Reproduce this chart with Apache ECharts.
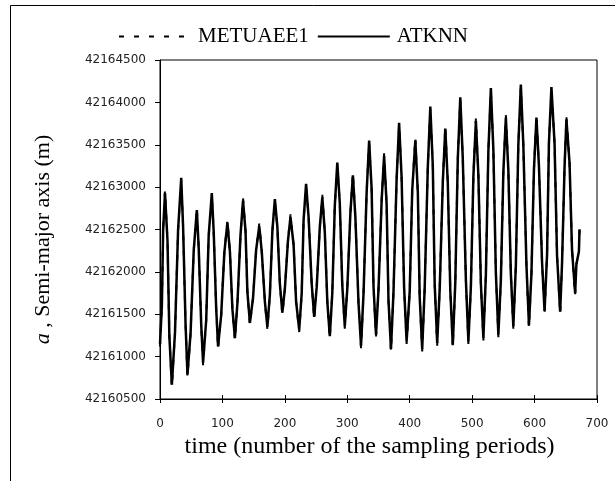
<!DOCTYPE html>
<html>
<head>
<meta charset="utf-8">
<script src="https://cdn.jsdelivr.net/npm/echarts@6/dist/echarts.min.js"></script>
<style>html,body{margin:0;padding:0;background:#fff}#c{width:615px;height:481px}</style>
</head>
<body>
<div id="c"></div>
<script>
var seriesNames = ['METUAEE1', 'ATKNN'];
var sampleIdx = [0,3,5,8,12,15,19,24,29,34,37,41,44,49,54,59,62,66,69,74,78,83,86,90,93,98,103,108,112,116,120,124,129,133,137,140,144,149,154,159,163,168,172,176,180,184,188,192,196,200,205,209,214,218,223,227,230,234,238,243,247,251,256,260,264,268,272,276,280,284,288,292,296,300,305,309,313,318,322,326,331,335,339,342,346,350,355,359,363,366,370,374,379,383,387,391,395,400,404,409,413,416,420,424,429,433,437,440,444,448,453,457,461,465,469,473,477,481,485,490,494,498,502,506,510,514,518,522,526,530,534,538,542,546,550,554,558,562,566,570,574,578,582,587,591,595,599,603,607,612,616,620,623,627,632,636,641,644,648,651,656,660,665,667,671,672];
var atknn = [
42161150,42161600,42162490,42162930,42162370,42161240,42160670,42161280,42162500,42163110,42162530,42161370,42160790,
42161280,42162250,42162730,42162280,42161380,42160930,42161430,42162430,42162930,42162480,42161570,42161120,
42161490,42162220,42162580,42162240,42161560,42161220,42161630,42162440,42162840,42162480,42161760,42161400,
42161690,42162260,42162540,42162240,42161650,42161350,42161730,42162480,42162860,42162530,42161860,42161520,
42161800,42162370,42162650,42162320,42161650,42161320,42161750,42162610,42163040,42162650,42161860,42161470,
42161820,42162530,42162880,42162470,42161650,42161240,42161750,42162780,42163290,42162810,42161840,42161360,
42161800,42162700,42163140,42162640,42161630,42161130,42161740,42162940,42163550,42162980,42161830,42161260,
42161790,42162840,42163370,42162800,42161660,42161090,42161760,42163090,42163760,42163120,42161820,42161180,
42161770,42162960,42163550,42162940,42161700,42161090,42161810,42163240,42163950,42163250,42161860,42161160,
42161790,42163060,42163690,42163050,42161780,42161140,42161870,42163330,42164060,42163340,42161900,42161180,
42161830,42163130,42163780,42163140,42161860,42161220,42161960,42163430,42164170,42163440,42161990,42161260,
42161900,42163180,42163820,42163200,42161980,42161360,42162070,42163500,42164210,42163500,42162080,42161370,
42161980,42163210,42163820,42163250,42162110,42161540,42162200,42163520,42164180,42163520,42162190,42161530,
42162100,42163230,42163800,42163290,42162260,42161750,42162090,42162240,42162500];
var metuaee1 = [
42161120,42161600,42162490,42162960,42162370,42161240,42160640,42161280,42162500,42163080,42162530,42161370,42160760,
42161280,42162250,42162760,42162280,42161380,42160900,42161430,42162430,42162900,42162480,42161570,42161090,
42161490,42162220,42162610,42162240,42161560,42161190,42161630,42162440,42162870,42162480,42161760,42161370,
42161690,42162260,42162570,42162240,42161650,42161320,42161730,42162480,42162830,42162530,42161860,42161490,
42161800,42162370,42162680,42162320,42161650,42161290,42161750,42162610,42163010,42162650,42161860,42161440,
42161820,42162530,42162910,42162470,42161650,42161210,42161750,42162780,42163260,42162810,42161840,42161330,
42161800,42162700,42163170,42162640,42161630,42161100,42161740,42162940,42163520,42162980,42161830,42161230,
42161790,42162840,42163400,42162800,42161660,42161060,42161760,42163090,42163730,42163120,42161820,42161150,
42161770,42162960,42163580,42162940,42161700,42161060,42161810,42163240,42163920,42163250,42161860,42161130,
42161790,42163060,42163720,42163050,42161780,42161110,42161870,42163330,42164030,42163340,42161900,42161150,
42161830,42163130,42163810,42163140,42161860,42161190,42161960,42163430,42164140,42163440,42161990,42161230,
42161900,42163180,42163850,42163200,42161980,42161330,42162070,42163500,42164180,42163500,42162080,42161340,
42161980,42163210,42163850,42163250,42162110,42161510,42162200,42163520,42164150,42163520,42162190,42161500,
42162100,42163230,42163830,42163290,42162260,42161720,42162090,42162240,42162500];
var xTicks = [0, 100, 200, 300, 400, 500, 600, 700];
var yTicks = [42160500, 42161000, 42161500, 42162000, 42162500, 42163000, 42163500, 42164000, 42164500];

function pairs(xs, ys) {
  var out = [];
  for (var i = 0; i < Math.min(xs.length, ys.length); i++) out.push([xs[i], ys[i]]);
  return out;
}

var chart = echarts.init(document.getElementById('c'), null, {renderer: 'canvas'});
var serif = '"Liberation Serif", "Times New Roman", serif';
var sans = '"DejaVu Sans", "Liberation Sans", sans-serif';
chart.setOption({
  animation: false,
  backgroundColor: '#fff',
  graphic: [{
    type: 'rect', silent: true,
    shape: {x: 10.5, y: 5.5, width: 700, height: 600},
    style: {fill: 'none', stroke: '#000', lineWidth: 1}
  }],
  legend: {
    top: 21, left: 113,
    itemWidth: 72, itemHeight: 14, itemGap: 8,
    itemStyle: {opacity: 0},
    textStyle: {fontFamily: serif, fontSize: 21, color: '#000', padding: [0, 0, 0, 2]},
    data: seriesNames
  },
  grid: {left: 160, right: 18, top: 60, bottom: 82, show: true, borderColor: '#000', borderWidth: 1, backgroundColor: 'transparent'},
  xAxis: [{
    type: 'value', min: xTicks[0], max: xTicks[xTicks.length - 1], interval: 100,
    name: 'time (number of the sampling periods)', nameLocation: 'middle', nameGap: 29,
    nameTextStyle: {fontFamily: serif, fontSize: 24, color: '#000', padding: [0, 18, 0, 0]},
    axisLine: {show: true, lineStyle: {color: '#000', width: 1}},
    axisTick: {show: true, length: 4, lineStyle: {color: '#000'}},
    axisLabel: {fontFamily: sans, fontSize: 12, color: '#222', margin: 19},
    splitLine: {show: false}
  }, {
    type: 'value', position: 'bottom', min: xTicks[0], max: xTicks[xTicks.length - 1], interval: 100,
    axisLine: {show: false}, axisLabel: {show: false}, splitLine: {show: false},
    axisTick: {show: true, inside: true, length: 4, lineStyle: {color: '#000'}}
  }],
  yAxis: {
    type: 'value', min: yTicks[0], max: yTicks[yTicks.length - 1], interval: 500,
    name: '{i|a} , Semi-major axis (m)', nameLocation: 'middle', nameGap: 106,
    nameTextStyle: {fontFamily: serif, fontSize: 22, color: '#000', padding: [0, 20, 0, 0],
      rich: {i: {fontFamily: serif, fontSize: 22, fontStyle: 'italic', color: '#000'}}},
    axisLine: {show: true, lineStyle: {color: '#000', width: 1}},
    axisTick: {show: true, length: 5, lineStyle: {color: '#000'}},
    axisLabel: {fontFamily: sans, fontSize: 12, color: '#222', margin: 14,
      formatter: function (v) { return String(v); }},
    splitLine: {show: false}
  },
  series: [{
    name: seriesNames[0], type: 'line', symbol: 'none', showSymbol: false,
    lineStyle: {color: '#000', width: 2, type: [5, 10]}, itemStyle: {color: '#000'},
    data: pairs(sampleIdx, metuaee1), z: 2
  }, {
    name: seriesNames[1], type: 'line', symbol: 'none', showSymbol: false,
    lineStyle: {color: '#000', width: 2.5, type: 'solid'}, itemStyle: {color: '#000'},
    data: pairs(sampleIdx, atknn), z: 3
  }]
});
</script>
</body>
</html>
